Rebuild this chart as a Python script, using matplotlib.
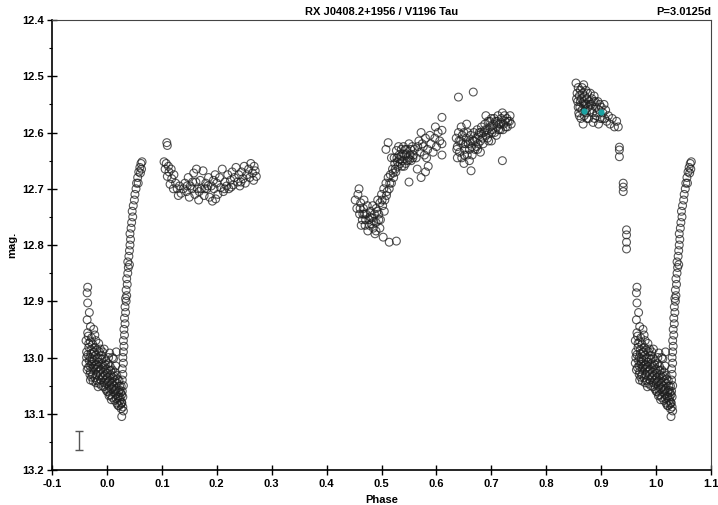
import matplotlib
matplotlib.use("Agg")
import matplotlib.pyplot as plt
from matplotlib.ticker import MultipleLocator, FormatStrFormatter

# phase, mag
eclipse = [
    (-0.035, 12.875), (-0.036, 12.885), (-0.035, 12.903), (-0.032, 12.920), (-0.036, 12.933),
    (-0.035, 12.956), (-0.030, 12.945), (-0.028, 12.965), (-0.022, 12.960), (-0.015, 12.975),
    (-0.005, 12.985), (0.005, 12.992), (0.017, 12.990), (0.010, 13.000),
    (-0.038, 12.970), (-0.037, 12.990), (-0.038, 13.010), (-0.036, 13.022),
    (-0.034, 12.962), (-0.033, 12.982), (-0.035, 12.995), (-0.032, 13.006), (-0.034, 13.018), (-0.031, 13.030),
    (-0.030, 12.972), (-0.029, 12.986), (-0.031, 13.000), (-0.028, 13.012), (-0.030, 13.025),
    (-0.026, 12.976), (-0.025, 12.991), (-0.027, 13.002), (-0.024, 13.016), (-0.026, 13.031), (-0.025, 13.042),
    (-0.022, 12.982), (-0.021, 12.996), (-0.023, 13.006), (-0.020, 13.021), (-0.022, 13.036),
    (-0.018, 12.986), (-0.017, 13.001), (-0.019, 13.012), (-0.016, 13.026), (-0.018, 13.041),
    (-0.014, 12.990), (-0.013, 13.002), (-0.015, 13.016), (-0.012, 13.031), (-0.014, 13.046),
    (-0.010, 12.996), (-0.009, 13.011), (-0.011, 13.021), (-0.008, 13.036), (-0.010, 13.050),
    (-0.006, 13.001), (-0.005, 13.016), (-0.007, 13.026), (-0.004, 13.041), (-0.006, 13.052),
    (-0.002, 13.006), (-0.001, 13.021), (-0.003, 13.031), (0.000, 13.046), (-0.002, 13.056),
    (0.002, 13.011), (0.003, 13.022), (0.001, 13.036), (0.004, 13.051), (0.002, 13.061),
    (0.006, 13.016), (0.007, 13.031), (0.005, 13.041), (0.008, 13.056), (0.006, 13.066),
    (0.010, 13.022), (0.011, 13.036), (0.009, 13.046), (0.012, 13.061), (0.010, 13.071),
    (0.014, 13.026), (0.015, 13.041), (0.013, 13.051), (0.016, 13.066), (0.014, 13.076),
    (0.018, 13.032), (0.019, 13.046), (0.017, 13.056), (0.020, 13.071), (0.018, 13.081),
    (0.022, 13.041), (0.023, 13.051), (0.021, 13.061), (0.024, 13.076), (0.022, 13.086),
    (0.026, 13.051), (0.025, 13.062), (0.024, 13.071), (0.027, 13.081), (0.026, 13.091),
    (0.027, 13.105), (0.030, 13.095), (0.029, 13.088), (-0.020, 12.970), (-0.008, 12.990),
    (-0.030, 13.040), (-0.016, 13.052), (0.004, 13.068), (0.012, 13.002), (-0.024, 12.950),
    (-0.033, 12.975), (-0.029, 12.993), (-0.027, 13.008), (-0.031, 13.015), (-0.023, 12.990),
    (-0.021, 13.013), (-0.019, 13.030), (-0.015, 13.008), (-0.013, 13.023), (-0.011, 13.040),
    (-0.009, 13.003), (-0.007, 13.033), (-0.005, 13.045), (-0.003, 13.013), (-0.001, 13.038),
    (0.001, 13.028), (0.003, 13.043), (0.005, 13.058), (0.007, 13.023), (0.009, 13.053),
    (0.011, 13.043), (0.013, 13.033), (0.015, 13.058), (0.017, 13.073), (0.019, 13.038),
    (0.021, 13.068), (0.023, 13.058), (0.025, 13.083), (0.027, 13.066), (0.016, 13.015),
    (-0.037, 13.000), (-0.028, 13.035), (-0.020, 13.045), (0.000, 13.060), (0.008, 13.075),
    (0.020, 13.085), (-0.012, 12.985), (0.003, 13.000), (-0.025, 13.020), (-0.017, 13.018),
]

rise = [
    (0.027, 13.080), (0.029, 13.070), (0.028, 13.060), (0.030, 13.050), (0.028, 13.040),
    (0.029, 13.030), (0.028, 13.020), (0.030, 13.010), (0.029, 13.000), (0.030, 12.990),
    (0.031, 12.980), (0.030, 12.970), (0.032, 12.960), (0.031, 12.950), (0.033, 12.940),
    (0.032, 12.930), (0.034, 12.920), (0.033, 12.910), (0.035, 12.900), (0.036, 12.890),
    (0.035, 12.880), (0.037, 12.870), (0.036, 12.860), (0.038, 12.850), (0.039, 12.840),
    (0.038, 12.830), (0.040, 12.820), (0.041, 12.810), (0.042, 12.800), (0.043, 12.790),
    (0.042, 12.780), (0.044, 12.770), (0.045, 12.760), (0.047, 12.750), (0.046, 12.740),
    (0.048, 12.730), (0.050, 12.720), (0.051, 12.710), (0.053, 12.700), (0.054, 12.690),
    (0.056, 12.680), (0.058, 12.670), (0.060, 12.662), (0.062, 12.655), (0.064, 12.652),
    (0.061, 12.672), (0.057, 12.690), (0.063, 12.665), (0.041, 12.835), (0.034, 12.895),
]

plateau = [
    (0.109, 12.618), (0.110, 12.623),
    (0.104, 12.652), (0.108, 12.655), (0.112, 12.660), (0.106, 12.665), (0.113, 12.670),
    (0.117, 12.665), (0.110, 12.678), (0.118, 12.682), (0.122, 12.675), (0.115, 12.692),
    (0.125, 12.690), (0.128, 12.700), (0.121, 12.700), (0.132, 12.695), (0.135, 12.708),
    (0.130, 12.712), (0.139, 12.700),
    (0.142, 12.690), (0.145, 12.705), (0.148, 12.680), (0.150, 12.715), (0.152, 12.695),
    (0.155, 12.700), (0.158, 12.672), (0.160, 12.710), (0.162, 12.688), (0.165, 12.700),
    (0.167, 12.720), (0.170, 12.685), (0.172, 12.700), (0.175, 12.668), (0.177, 12.712),
    (0.180, 12.690), (0.182, 12.700), (0.185, 12.680), (0.187, 12.715), (0.190, 12.695),
    (0.192, 12.722), (0.195, 12.700), (0.197, 12.675), (0.200, 12.690), (0.202, 12.710),
    (0.205, 12.680), (0.207, 12.698), (0.210, 12.665), (0.212, 12.705), (0.215, 12.688),
    (0.218, 12.695), (0.220, 12.675), (0.222, 12.700), (0.225, 12.685), (0.228, 12.670),
    (0.230, 12.693), (0.232, 12.680), (0.235, 12.662), (0.238, 12.688), (0.240, 12.675),
    (0.242, 12.695), (0.245, 12.670), (0.248, 12.682), (0.250, 12.660), (0.252, 12.690),
    (0.255, 12.675), (0.258, 12.665), (0.260, 12.680), (0.262, 12.655), (0.265, 12.672),
    (0.267, 12.685), (0.270, 12.668), (0.272, 12.678), (0.268, 12.660), (0.163, 12.665),
    (0.178, 12.700), (0.198, 12.718), (0.214, 12.700), (0.226, 12.697), (0.244, 12.688),
    (0.146, 12.695), (0.156, 12.688), (0.168, 12.705), (0.184, 12.695), (0.194, 12.685),
]

hump = [
    (0.452, 12.720), (0.455, 12.735), (0.457, 12.710), (0.460, 12.745), (0.462, 12.725),
    (0.465, 12.755), (0.467, 12.735), (0.470, 12.765), (0.468, 12.720), (0.472, 12.745),
    (0.475, 12.775), (0.477, 12.755), (0.480, 12.740), (0.478, 12.765), (0.482, 12.752),
    (0.485, 12.770), (0.487, 12.745), (0.490, 12.760), (0.492, 12.740), (0.488, 12.780),
    (0.495, 12.755), (0.459, 12.700), (0.463, 12.765), (0.474, 12.730), (0.484, 12.730),
    (0.490, 12.735), (0.493, 12.720), (0.495, 12.745), (0.497, 12.725), (0.500, 12.710),
    (0.502, 12.730), (0.504, 12.700), (0.506, 12.720), (0.508, 12.690), (0.510, 12.705),
    (0.512, 12.680), (0.514, 12.700), (0.516, 12.675), (0.518, 12.690), (0.520, 12.665),
    (0.522, 12.680), (0.524, 12.655), (0.526, 12.670), (0.528, 12.645), (0.530, 12.660),
    (0.532, 12.640), (0.534, 12.655), (0.536, 12.630), (0.538, 12.650), (0.540, 12.625),
    (0.542, 12.640), (0.544, 12.655), (0.546, 12.630), (0.548, 12.645), (0.550, 12.620),
    (0.552, 12.640), (0.554, 12.650), (0.556, 12.625), (0.558, 12.640), (0.560, 12.630),
    (0.563, 12.645), (0.566, 12.625), (0.570, 12.635), (0.574, 12.620), (0.578, 12.640),
    (0.531, 12.625), (0.541, 12.660), (0.527, 12.632),
    (0.508, 12.630), (0.512, 12.618), (0.518, 12.645), (0.498, 12.755), (0.505, 12.740),
    (0.550, 12.688), (0.565, 12.665), (0.572, 12.680), (0.580, 12.670), (0.585, 12.660),
    (0.503, 12.786), (0.514, 12.795), (0.527, 12.793), (0.497, 12.770), (0.490, 12.775),
    (0.568, 12.615), (0.572, 12.600), (0.576, 12.625), (0.580, 12.610), (0.584, 12.630),
    (0.588, 12.605), (0.590, 12.620), (0.594, 12.635), (0.597, 12.610), (0.600, 12.625),
    (0.603, 12.600), (0.606, 12.615), (0.598, 12.590), (0.582, 12.645),
    (0.610, 12.573), (0.610, 12.596), (0.610, 12.620), (0.610, 12.640),
    (0.466, 12.745), (0.479, 12.750), (0.486, 12.758), (0.501, 12.720), (0.509, 12.712),
    (0.515, 12.690), (0.521, 12.672), (0.529, 12.652), (0.535, 12.642), (0.545, 12.638),
    (0.523, 12.645), (0.537, 12.660), (0.543, 12.630), (0.547, 12.650), (0.553, 12.630),
    (0.557, 12.645), (0.525, 12.665), (0.533, 12.648), (0.539, 12.638), (0.551, 12.648),
    (0.461, 12.735), (0.471, 12.755), (0.481, 12.762), (0.469, 12.745),
]

maximum = [
    (0.636, 12.610), (0.638, 12.625), (0.640, 12.600), (0.642, 12.635), (0.644, 12.615),
    (0.646, 12.645), (0.648, 12.620), (0.650, 12.600), (0.652, 12.630), (0.654, 12.610),
    (0.656, 12.640), (0.658, 12.620), (0.660, 12.630), (0.662, 12.605), (0.664, 12.625),
    (0.666, 12.615), (0.668, 12.600), (0.670, 12.630), (0.672, 12.610), (0.674, 12.595),
    (0.676, 12.620), (0.678, 12.600), (0.680, 12.615), (0.682, 12.590), (0.684, 12.610),
    (0.686, 12.600), (0.688, 12.585), (0.690, 12.605), (0.692, 12.595), (0.694, 12.580),
    (0.696, 12.600), (0.698, 12.590), (0.700, 12.575), (0.702, 12.595), (0.704, 12.585),
    (0.706, 12.600), (0.708, 12.580), (0.710, 12.590), (0.712, 12.570), (0.714, 12.585),
    (0.716, 12.595), (0.718, 12.575), (0.720, 12.565), (0.722, 12.585), (0.724, 12.570),
    (0.726, 12.590), (0.728, 12.575), (0.730, 12.580), (0.734, 12.570), (0.736, 12.585),
    (0.645, 12.590), (0.660, 12.650), (0.680, 12.635), (0.700, 12.615), (0.655, 12.585),
    (0.690, 12.570), (0.640, 12.537), (0.667, 12.528), (0.663, 12.668), (0.720, 12.650),
    (0.650, 12.655), (0.638, 12.645),
    (0.637, 12.630), (0.641, 12.615), (0.647, 12.605), (0.651, 12.640), (0.657, 12.600),
    (0.661, 12.615), (0.665, 12.640), (0.669, 12.615), (0.673, 12.625), (0.677, 12.605),
    (0.681, 12.600), (0.685, 12.620), (0.689, 12.595), (0.693, 12.610), (0.697, 12.580),
    (0.701, 12.600), (0.705, 12.575), (0.709, 12.605), (0.713, 12.595), (0.717, 12.585),
    (0.721, 12.595), (0.725, 12.580), (0.729, 12.590), (0.733, 12.580), (0.653, 12.620),
    (0.675, 12.630), (0.695, 12.615), (0.711, 12.580),
]

bright = [
    (0.854, 12.512), (0.856, 12.530), (0.858, 12.520), (0.857, 12.545), (0.860, 12.535),
    (0.862, 12.525), (0.861, 12.555), (0.864, 12.540), (0.866, 12.530), (0.865, 12.560),
    (0.868, 12.545), (0.870, 12.535), (0.869, 12.570), (0.872, 12.550), (0.874, 12.540),
    (0.873, 12.565), (0.876, 12.555), (0.878, 12.545), (0.877, 12.575), (0.880, 12.560),
    (0.882, 12.550), (0.884, 12.565), (0.886, 12.545), (0.888, 12.575), (0.890, 12.555),
    (0.892, 12.565), (0.894, 12.545), (0.896, 12.560), (0.898, 12.575), (0.900, 12.555),
    (0.903, 12.565), (0.906, 12.575), (0.908, 12.560), (0.910, 12.580), (0.913, 12.570),
    (0.916, 12.585), (0.920, 12.575), (0.924, 12.590), (0.928, 12.580), (0.931, 12.590),
    (0.859, 12.565), (0.863, 12.575), (0.867, 12.585), (0.880, 12.530), (0.872, 12.525),
    (0.887, 12.535), (0.895, 12.585), (0.905, 12.550), (0.868, 12.515), (0.885, 12.582),
    (0.855, 12.540), (0.858, 12.555), (0.862, 12.545), (0.865, 12.520), (0.867, 12.550),
    (0.871, 12.560), (0.875, 12.530), (0.879, 12.550), (0.883, 12.540), (0.889, 12.545),
    (0.891, 12.570), (0.897, 12.550), (0.902, 12.575), (0.860, 12.570), (0.874, 12.575),
    (0.870, 12.550),
    (0.933, 12.626), (0.933, 12.631), (0.933, 12.643), (0.940, 12.690), (0.940, 12.697),
    (0.940, 12.705), (0.946, 12.773), (0.946, 12.782), (0.946, 12.795), (0.946, 12.807),
]

cyan_points = [(0.869, 12.562), (0.900, 12.564)]

title = "RX J0408.2+1956 / V1196 Tau"
period = "P=3.0125d"


def main():
    plt.rcParams['font.family'] = ['Liberation Sans Narrow', 'Liberation Sans', 'DejaVu Sans']

    fig = plt.figure(figsize=(7.18, 5.05), dpi=100)
    ax = fig.add_axes([0.0724, 0.0693, 0.918, 0.891])

    # eclipse part is shown twice, at phase and phase + 1
    wrapped = eclipse + rise
    xs, ys = [], []
    for p, m in wrapped:
        xs += [p, p + 1]
        ys += [m, m]
    for seg in (plateau, hump, maximum, bright):
        for p, m in seg:
            xs.append(p)
            ys.append(m)

    ax.scatter(xs, ys, s=32, facecolors='none', edgecolors='#1e1e1e',
               linewidths=0.8, alpha=0.75, zorder=3)
    ax.scatter([p for p, m in cyan_points], [m for p, m in cyan_points], s=12,
               color='#1aa3a3', zorder=4)

    # typical error bar
    ax.errorbar([-0.05], [13.1475], yerr=[0.0175], fmt='none', ecolor='#555555',
                elinewidth=1.0, capsize=3, capthick=1.0)

    ax.set_xlim(-0.1, 1.1)
    ax.set_ylim(13.2, 12.4)
    ax.xaxis.set_major_locator(MultipleLocator(0.1))
    ax.yaxis.set_major_locator(MultipleLocator(0.1))
    ax.yaxis.set_minor_locator(MultipleLocator(0.05))
    ax.xaxis.set_major_formatter(FormatStrFormatter('%.1f'))
    ax.yaxis.set_major_formatter(FormatStrFormatter('%.1f'))
    ax.tick_params(axis='x', direction='inout', length=7, width=1, labelsize=8, pad=3)
    ax.tick_params(axis='y', which='major', direction='inout', length=7, width=1, labelsize=8, pad=2)
    ax.tick_params(axis='y', which='minor', direction='out', length=2.5, width=0.8)
    for lab in ax.get_xticklabels() + ax.get_yticklabels():
        lab.set_fontweight('bold')

    for side in ('left', 'bottom'):
        ax.spines[side].set_linewidth(1.2)
    for side in ('top', 'right'):
        ax.spines[side].set_linewidth(0.8)
        ax.spines[side].set_color('#444444')

    ax.set_xlabel("Phase", fontsize=8, fontweight='bold', labelpad=4)
    ax.set_ylabel("mag.", fontsize=8, fontweight='bold', labelpad=4)
    ax.text(0.5, 1.006, title, transform=ax.transAxes, ha='center', va='bottom',
            fontsize=8, fontweight='bold')
    ax.text(1.0, 1.006, period, transform=ax.transAxes, ha='right', va='bottom',
            fontsize=8, fontweight='bold')

    fig.savefig("out.png", dpi=100)


if __name__ == "__main__":
    main()
